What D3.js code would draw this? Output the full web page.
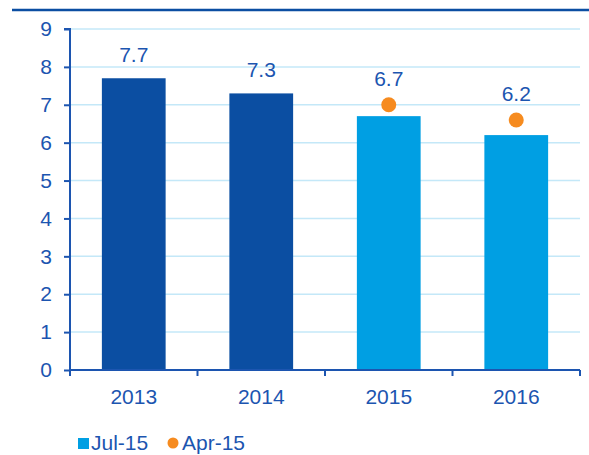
<!DOCTYPE html>
<meta charset="utf-8">
<style>
  body { margin: 0; background: #fff; }
  svg text { font-family: "Liberation Sans", Arial, sans-serif; fill: #1c55b0; }
  .axis path, .axis line { stroke: #1c55b0; stroke-width: 2; fill: none; }
  .axis text { font-size: 21px; }
  .grid line { stroke: #c4e8f8; stroke-width: 1.5; }
</style>
<body>
<script src="https://d3js.org/d3.v7.min.js"></script>
<script>
// values
var years = ["2013", "2014", "2015", "2016"];
var jul15 = [7.7, 7.3, 6.7, 6.2];
var apr15 = [null, null, 7.0, 6.6];
var forecast = [false, false, true, true];   // light blue bars
var yTicks = [0, 1, 2, 3, 4, 5, 6, 7, 8, 9];
var seriesNames = ["Jul-15", "Apr-15"];

var dark = "#0b4ea2", light = "#009fe3", orange = "#f68b1f";

var margin = {top: 29, right: 9, bottom: 85, left: 70},
    width = 589 - margin.left - margin.right,
    height = 455 - margin.top - margin.bottom;

var svg = d3.select("body").append("svg")
    .attr("width", 589)
    .attr("height", 455);

// rule under the (cropped) title
svg.append("line")
    .attr("x1", 12).attr("x2", 589)
    .attr("y1", 10).attr("y2", 10)
    .attr("stroke", dark).attr("stroke-width", 2.5);

var g = svg.append("g")
    .attr("transform", "translate(" + margin.left + "," + margin.top + ")");

var x = d3.scaleBand().domain(years).range([0, width]).paddingInner(0.5).paddingOuter(0.25);
var y = d3.scaleLinear().domain([0, 9]).range([height, 0]);

g.append("g").attr("class", "grid")
  .selectAll("line")
  .data(yTicks.filter(function(d) { return d > 0; }))
  .enter().append("line")
    .attr("x1", 0).attr("x2", width)
    .attr("y1", function(d) { return y(d); })
    .attr("y2", function(d) { return y(d); });

g.selectAll(".bar")
    .data(years)
  .enter().append("rect")
    .attr("class", "bar")
    .attr("x", function(d) { return x(d); })
    .attr("width", x.bandwidth())
    .attr("y", function(d, i) { return y(jul15[i]); })
    .attr("height", function(d, i) { return height - y(jul15[i]); })
    .attr("fill", function(d, i) { return forecast[i] ? light : dark; });

g.selectAll(".dot")
    .data(years.filter(function(d, i) { return apr15[i] != null; }))
  .enter().append("circle")
    .attr("class", "dot")
    .attr("cx", function(d) { return x(d) + x.bandwidth() / 2; })
    .attr("cy", function(d) { return y(apr15[years.indexOf(d)]); })
    .attr("r", 7.5)
    .attr("fill", orange);

g.selectAll(".lbl")
    .data(years)
  .enter().append("text")
    .attr("class", "lbl")
    .attr("x", function(d) { return x(d) + x.bandwidth() / 2; })
    .attr("y", function(d, i) {
      if (apr15[i] == null) return y(jul15[i]) - 16;
      return y(Math.max(jul15[i], apr15[i])) - 19;
    })
    .attr("text-anchor", "middle")
    .style("font-size", "21px")
    .text(function(d, i) { return jul15[i].toFixed(1); });

// x axis: ticks between categories
var xAxis = g.append("g")
    .attr("class", "axis")
    .attr("transform", "translate(0," + height + ")");
xAxis.append("line").attr("x1", 0).attr("x2", width);
var step = width / years.length;
xAxis.selectAll(".xt")
    .data(d3.range(years.length + 1))
  .enter().append("line")
    .attr("x1", function(d) { return d * step; })
    .attr("x2", function(d) { return d * step; })
    .attr("y1", 0).attr("y2", 6);
xAxis.selectAll("text")
    .data(years)
  .enter().append("text")
    .attr("x", function(d) { return x(d) + x.bandwidth() / 2; })
    .attr("y", 34)
    .attr("text-anchor", "middle")
    .text(function(d) { return d; });

var yAxis = g.append("g")
    .attr("class", "axis")
    .call(d3.axisLeft(y).tickValues(yTicks).tickSize(6).tickPadding(12).tickFormat(d3.format("d")));
yAxis.select(".domain").attr("d", "M-6," + y(9) + "H0V" + height);

// legend
var leg = svg.append("g").attr("transform", "translate(78,443)");
leg.append("rect").attr("x", 0).attr("y", -5).attr("width", 11).attr("height", 11).attr("fill", light);
leg.append("text").attr("x", 13).attr("y", 7).style("font-size", "21px").text(seriesNames[0]);
leg.append("circle").attr("cx", 95).attr("cy", 0).attr("r", 5.5).attr("fill", orange);
leg.append("text").attr("x", 104).attr("y", 7).style("font-size", "21px").text(seriesNames[1]);
</script>
</body>
